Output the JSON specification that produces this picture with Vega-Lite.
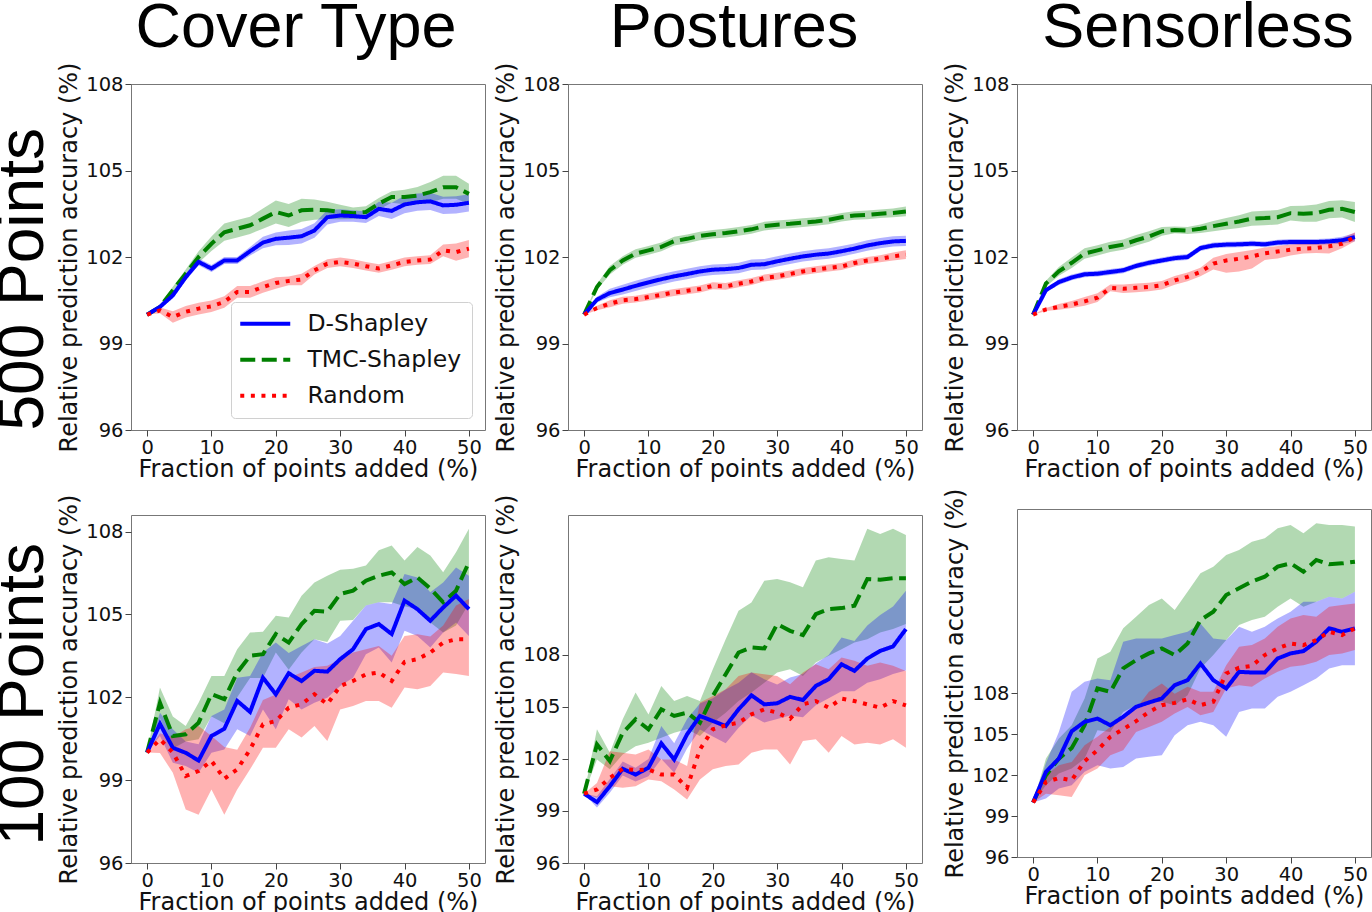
{
"$schema":"https://vega.github.io/schema/vega-lite/v6.json",
"padding":{"left":-8,"top":-4,"right":0,"bottom":0},
"background":"white",
"config":{
 "view":{"stroke":"#777","strokeWidth":1},
 "axis":{"grid":false,"domain":false,"labelFont":"DejaVu Sans","labelFontSize":19.5,"labelColor":"#111","titleFont":"DejaVu Sans","titleFontSize":24,"titleFontWeight":"normal","titleColor":"#111","tickColor":"#444","tickSize":6,"labelPadding":2},
 "axisX":{"titlePadding":1,"labelFlush":false},
 "axisY":{"titlePadding":4},
 "title":{"font":"Liberation Sans","fontWeight":"normal","color":"#000"}
},
"spacing":20,
"datasets":{
"ct500":[
{"s":"TMC-Shapley","x":0,"y":100,"lo":100,"hi":100},{"s":"TMC-Shapley","x":2,"y":100.27,"lo":100.19,"hi":100.35},{"s":"TMC-Shapley","x":4,"y":100.85,"lo":100.73,"hi":100.97},{"s":"TMC-Shapley","x":6,"y":101.42,"lo":101.27,"hi":101.57},{"s":"TMC-Shapley","x":8,"y":102.0,"lo":101.8,"hi":102.2},{"s":"TMC-Shapley","x":10,"y":102.46,"lo":102.21,"hi":102.71},{"s":"TMC-Shapley","x":12,"y":102.86,"lo":102.56,"hi":103.16},{"s":"TMC-Shapley","x":14,"y":102.98,"lo":102.68,"hi":103.28},{"s":"TMC-Shapley","x":16,"y":103.1,"lo":102.8,"hi":103.4},{"s":"TMC-Shapley","x":18,"y":103.33,"lo":102.98,"hi":103.68},{"s":"TMC-Shapley","x":20,"y":103.56,"lo":103.16,"hi":103.96},{"s":"TMC-Shapley","x":22,"y":103.44,"lo":103.04,"hi":103.84},{"s":"TMC-Shapley","x":24,"y":103.62,"lo":103.22,"hi":104.02},{"s":"TMC-Shapley","x":26,"y":103.64,"lo":103.29,"hi":103.99},{"s":"TMC-Shapley","x":28,"y":103.62,"lo":103.32,"hi":103.92},{"s":"TMC-Shapley","x":30,"y":103.56,"lo":103.31,"hi":103.81},{"s":"TMC-Shapley","x":32,"y":103.52,"lo":103.32,"hi":103.72},{"s":"TMC-Shapley","x":34,"y":103.56,"lo":103.36,"hi":103.76},{"s":"TMC-Shapley","x":36,"y":103.85,"lo":103.65,"hi":104.05},{"s":"TMC-Shapley","x":38,"y":104.08,"lo":103.88,"hi":104.28},{"s":"TMC-Shapley","x":40,"y":104.08,"lo":103.83,"hi":104.33},{"s":"TMC-Shapley","x":42,"y":104.13,"lo":103.83,"hi":104.43},{"s":"TMC-Shapley","x":44,"y":104.25,"lo":103.9,"hi":104.6},{"s":"TMC-Shapley","x":46,"y":104.42,"lo":104.02,"hi":104.82},{"s":"TMC-Shapley","x":48,"y":104.42,"lo":104.02,"hi":104.82},{"s":"TMC-Shapley","x":50,"y":104.19,"lo":103.84,"hi":104.54},
{"s":"D-Shapley","x":0,"y":100,"lo":100,"hi":100},{"s":"D-Shapley","x":2,"y":100.27,"lo":100.19,"hi":100.35},{"s":"D-Shapley","x":4,"y":100.67,"lo":100.57,"hi":100.77},{"s":"D-Shapley","x":6,"y":101.3,"lo":101.18,"hi":101.42},{"s":"D-Shapley","x":8,"y":101.83,"lo":101.71,"hi":101.95},{"s":"D-Shapley","x":10,"y":101.6,"lo":101.48,"hi":101.72},{"s":"D-Shapley","x":12,"y":101.88,"lo":101.76,"hi":102.0},{"s":"D-Shapley","x":14,"y":101.88,"lo":101.76,"hi":102.0},{"s":"D-Shapley","x":16,"y":102.2,"lo":102.05,"hi":102.35},{"s":"D-Shapley","x":18,"y":102.5,"lo":102.3,"hi":102.7},{"s":"D-Shapley","x":20,"y":102.63,"lo":102.41,"hi":102.85},{"s":"D-Shapley","x":22,"y":102.67,"lo":102.42,"hi":102.92},{"s":"D-Shapley","x":24,"y":102.72,"lo":102.47,"hi":102.97},{"s":"D-Shapley","x":26,"y":102.92,"lo":102.67,"hi":103.17},{"s":"D-Shapley","x":28,"y":103.38,"lo":103.13,"hi":103.63},{"s":"D-Shapley","x":30,"y":103.44,"lo":103.22,"hi":103.66},{"s":"D-Shapley","x":32,"y":103.42,"lo":103.22,"hi":103.62},{"s":"D-Shapley","x":34,"y":103.38,"lo":103.18,"hi":103.58},{"s":"D-Shapley","x":36,"y":103.67,"lo":103.42,"hi":103.92},{"s":"D-Shapley","x":38,"y":103.6,"lo":103.32,"hi":103.88},{"s":"D-Shapley","x":40,"y":103.82,"lo":103.52,"hi":104.12},{"s":"D-Shapley","x":42,"y":103.9,"lo":103.6,"hi":104.2},{"s":"D-Shapley","x":44,"y":103.93,"lo":103.63,"hi":104.23},{"s":"D-Shapley","x":46,"y":103.79,"lo":103.49,"hi":104.09},{"s":"D-Shapley","x":48,"y":103.81,"lo":103.51,"hi":104.11},{"s":"D-Shapley","x":50,"y":103.88,"lo":103.58,"hi":104.18},
{"s":"Random","x":0,"y":100,"lo":100,"hi":100},{"s":"Random","x":2,"y":100.15,"lo":100.05,"hi":100.25},{"s":"Random","x":4,"y":99.92,"lo":99.72,"hi":100.12},{"s":"Random","x":6,"y":100.1,"lo":99.9,"hi":100.3},{"s":"Random","x":8,"y":100.21,"lo":100.01,"hi":100.41},{"s":"Random","x":10,"y":100.29,"lo":100.09,"hi":100.49},{"s":"Random","x":12,"y":100.44,"lo":100.24,"hi":100.64},{"s":"Random","x":14,"y":100.79,"lo":100.59,"hi":100.99},{"s":"Random","x":16,"y":100.79,"lo":100.59,"hi":100.99},{"s":"Random","x":18,"y":100.96,"lo":100.76,"hi":101.16},{"s":"Random","x":20,"y":101.1,"lo":100.9,"hi":101.3},{"s":"Random","x":22,"y":101.17,"lo":101.02,"hi":101.32},{"s":"Random","x":24,"y":101.22,"lo":101.02,"hi":101.42},{"s":"Random","x":26,"y":101.54,"lo":101.39,"hi":101.69},{"s":"Random","x":28,"y":101.77,"lo":101.62,"hi":101.92},{"s":"Random","x":30,"y":101.83,"lo":101.68,"hi":101.98},{"s":"Random","x":32,"y":101.77,"lo":101.62,"hi":101.92},{"s":"Random","x":34,"y":101.68,"lo":101.53,"hi":101.83},{"s":"Random","x":36,"y":101.6,"lo":101.45,"hi":101.75},{"s":"Random","x":38,"y":101.71,"lo":101.56,"hi":101.86},{"s":"Random","x":40,"y":101.83,"lo":101.68,"hi":101.98},{"s":"Random","x":42,"y":101.88,"lo":101.73,"hi":102.03},{"s":"Random","x":44,"y":101.91,"lo":101.76,"hi":102.06},{"s":"Random","x":46,"y":102.23,"lo":102.03,"hi":102.43},{"s":"Random","x":48,"y":102.17,"lo":101.87,"hi":102.47},{"s":"Random","x":50,"y":102.29,"lo":101.99,"hi":102.59}
],
"po500":[
{"s":"TMC-Shapley","x":0,"y":100,"lo":100,"hi":100},{"s":"TMC-Shapley","x":2,"y":100.96,"lo":100.86,"hi":101.06},{"s":"TMC-Shapley","x":4,"y":101.54,"lo":101.39,"hi":101.69},{"s":"TMC-Shapley","x":6,"y":101.88,"lo":101.73,"hi":102.03},{"s":"TMC-Shapley","x":8,"y":102.12,"lo":101.97,"hi":102.27},{"s":"TMC-Shapley","x":10,"y":102.23,"lo":102.08,"hi":102.38},{"s":"TMC-Shapley","x":12,"y":102.35,"lo":102.2,"hi":102.5},{"s":"TMC-Shapley","x":14,"y":102.55,"lo":102.4,"hi":102.7},{"s":"TMC-Shapley","x":16,"y":102.63,"lo":102.48,"hi":102.78},{"s":"TMC-Shapley","x":18,"y":102.73,"lo":102.58,"hi":102.88},{"s":"TMC-Shapley","x":20,"y":102.79,"lo":102.64,"hi":102.94},{"s":"TMC-Shapley","x":22,"y":102.83,"lo":102.68,"hi":102.98},{"s":"TMC-Shapley","x":24,"y":102.89,"lo":102.74,"hi":103.04},{"s":"TMC-Shapley","x":26,"y":102.96,"lo":102.81,"hi":103.11},{"s":"TMC-Shapley","x":28,"y":103.07,"lo":102.92,"hi":103.22},{"s":"TMC-Shapley","x":30,"y":103.12,"lo":102.97,"hi":103.27},{"s":"TMC-Shapley","x":32,"y":103.15,"lo":103.0,"hi":103.3},{"s":"TMC-Shapley","x":34,"y":103.19,"lo":103.04,"hi":103.34},{"s":"TMC-Shapley","x":36,"y":103.23,"lo":103.08,"hi":103.38},{"s":"TMC-Shapley","x":38,"y":103.29,"lo":103.14,"hi":103.44},{"s":"TMC-Shapley","x":40,"y":103.38,"lo":103.23,"hi":103.53},{"s":"TMC-Shapley","x":42,"y":103.44,"lo":103.29,"hi":103.59},{"s":"TMC-Shapley","x":44,"y":103.46,"lo":103.31,"hi":103.61},{"s":"TMC-Shapley","x":46,"y":103.5,"lo":103.35,"hi":103.65},{"s":"TMC-Shapley","x":48,"y":103.53,"lo":103.38,"hi":103.68},{"s":"TMC-Shapley","x":50,"y":103.58,"lo":103.41,"hi":103.75},
{"s":"D-Shapley","x":0,"y":100,"lo":100,"hi":100},{"s":"D-Shapley","x":2,"y":100.52,"lo":100.42,"hi":100.62},{"s":"D-Shapley","x":4,"y":100.75,"lo":100.6,"hi":100.9},{"s":"D-Shapley","x":6,"y":100.87,"lo":100.7,"hi":101.04},{"s":"D-Shapley","x":8,"y":101.0,"lo":100.82,"hi":101.18},{"s":"D-Shapley","x":10,"y":101.12,"lo":100.94,"hi":101.3},{"s":"D-Shapley","x":12,"y":101.23,"lo":101.05,"hi":101.41},{"s":"D-Shapley","x":14,"y":101.33,"lo":101.15,"hi":101.51},{"s":"D-Shapley","x":16,"y":101.41,"lo":101.23,"hi":101.59},{"s":"D-Shapley","x":18,"y":101.5,"lo":101.32,"hi":101.68},{"s":"D-Shapley","x":20,"y":101.56,"lo":101.38,"hi":101.74},{"s":"D-Shapley","x":22,"y":101.58,"lo":101.4,"hi":101.76},{"s":"D-Shapley","x":24,"y":101.62,"lo":101.44,"hi":101.8},{"s":"D-Shapley","x":26,"y":101.73,"lo":101.55,"hi":101.91},{"s":"D-Shapley","x":28,"y":101.75,"lo":101.57,"hi":101.93},{"s":"D-Shapley","x":30,"y":101.85,"lo":101.67,"hi":102.03},{"s":"D-Shapley","x":32,"y":101.94,"lo":101.76,"hi":102.12},{"s":"D-Shapley","x":34,"y":102.02,"lo":101.84,"hi":102.2},{"s":"D-Shapley","x":36,"y":102.08,"lo":101.9,"hi":102.26},{"s":"D-Shapley","x":38,"y":102.12,"lo":101.94,"hi":102.3},{"s":"D-Shapley","x":40,"y":102.2,"lo":102.02,"hi":102.38},{"s":"D-Shapley","x":42,"y":102.29,"lo":102.11,"hi":102.47},{"s":"D-Shapley","x":44,"y":102.4,"lo":102.22,"hi":102.58},{"s":"D-Shapley","x":46,"y":102.48,"lo":102.3,"hi":102.66},{"s":"D-Shapley","x":48,"y":102.54,"lo":102.36,"hi":102.72},{"s":"D-Shapley","x":50,"y":102.56,"lo":102.38,"hi":102.74},
{"s":"Random","x":0,"y":100,"lo":100,"hi":100},{"s":"Random","x":2,"y":100.23,"lo":100.15,"hi":100.31},{"s":"Random","x":4,"y":100.38,"lo":100.26,"hi":100.5},{"s":"Random","x":6,"y":100.5,"lo":100.38,"hi":100.62},{"s":"Random","x":8,"y":100.54,"lo":100.42,"hi":100.66},{"s":"Random","x":10,"y":100.61,"lo":100.49,"hi":100.73},{"s":"Random","x":12,"y":100.69,"lo":100.57,"hi":100.81},{"s":"Random","x":14,"y":100.77,"lo":100.65,"hi":100.89},{"s":"Random","x":16,"y":100.83,"lo":100.71,"hi":100.95},{"s":"Random","x":18,"y":100.89,"lo":100.77,"hi":101.01},{"s":"Random","x":20,"y":101.0,"lo":100.88,"hi":101.12},{"s":"Random","x":22,"y":100.98,"lo":100.86,"hi":101.1},{"s":"Random","x":24,"y":101.07,"lo":100.95,"hi":101.19},{"s":"Random","x":26,"y":101.15,"lo":101.03,"hi":101.27},{"s":"Random","x":28,"y":101.27,"lo":101.15,"hi":101.39},{"s":"Random","x":30,"y":101.33,"lo":101.21,"hi":101.45},{"s":"Random","x":32,"y":101.41,"lo":101.29,"hi":101.53},{"s":"Random","x":34,"y":101.5,"lo":101.38,"hi":101.62},{"s":"Random","x":36,"y":101.56,"lo":101.44,"hi":101.68},{"s":"Random","x":38,"y":101.62,"lo":101.5,"hi":101.74},{"s":"Random","x":40,"y":101.67,"lo":101.55,"hi":101.79},{"s":"Random","x":42,"y":101.79,"lo":101.67,"hi":101.91},{"s":"Random","x":44,"y":101.88,"lo":101.76,"hi":102.0},{"s":"Random","x":46,"y":101.94,"lo":101.82,"hi":102.06},{"s":"Random","x":48,"y":102.02,"lo":101.88,"hi":102.16},{"s":"Random","x":50,"y":102.08,"lo":101.93,"hi":102.23}
],
"se500":[
{"s":"TMC-Shapley","x":0,"y":100,"lo":100,"hi":100},{"s":"TMC-Shapley","x":2,"y":101.08,"lo":100.98,"hi":101.18},{"s":"TMC-Shapley","x":4,"y":101.5,"lo":101.35,"hi":101.65},{"s":"TMC-Shapley","x":6,"y":101.8,"lo":101.62,"hi":101.98},{"s":"TMC-Shapley","x":8,"y":102.12,"lo":101.94,"hi":102.3},{"s":"TMC-Shapley","x":10,"y":102.23,"lo":102.05,"hi":102.41},{"s":"TMC-Shapley","x":12,"y":102.35,"lo":102.17,"hi":102.53},{"s":"TMC-Shapley","x":14,"y":102.43,"lo":102.25,"hi":102.61},{"s":"TMC-Shapley","x":16,"y":102.58,"lo":102.4,"hi":102.76},{"s":"TMC-Shapley","x":18,"y":102.71,"lo":102.53,"hi":102.89},{"s":"TMC-Shapley","x":20,"y":102.89,"lo":102.74,"hi":103.04},{"s":"TMC-Shapley","x":22,"y":102.94,"lo":102.82,"hi":103.06},{"s":"TMC-Shapley","x":24,"y":102.92,"lo":102.8,"hi":103.04},{"s":"TMC-Shapley","x":26,"y":102.98,"lo":102.83,"hi":103.13},{"s":"TMC-Shapley","x":28,"y":103.07,"lo":102.89,"hi":103.25},{"s":"TMC-Shapley","x":30,"y":103.15,"lo":102.95,"hi":103.35},{"s":"TMC-Shapley","x":32,"y":103.23,"lo":103.01,"hi":103.45},{"s":"TMC-Shapley","x":34,"y":103.33,"lo":103.08,"hi":103.58},{"s":"TMC-Shapley","x":36,"y":103.35,"lo":103.1,"hi":103.6},{"s":"TMC-Shapley","x":38,"y":103.38,"lo":103.13,"hi":103.63},{"s":"TMC-Shapley","x":40,"y":103.52,"lo":103.27,"hi":103.77},{"s":"TMC-Shapley","x":42,"y":103.5,"lo":103.22,"hi":103.78},{"s":"TMC-Shapley","x":44,"y":103.52,"lo":103.22,"hi":103.82},{"s":"TMC-Shapley","x":46,"y":103.64,"lo":103.34,"hi":103.94},{"s":"TMC-Shapley","x":48,"y":103.67,"lo":103.37,"hi":103.97},{"s":"TMC-Shapley","x":50,"y":103.56,"lo":103.21,"hi":103.91},
{"s":"D-Shapley","x":0,"y":100,"lo":100,"hi":100},{"s":"D-Shapley","x":2,"y":100.85,"lo":100.78,"hi":100.92},{"s":"D-Shapley","x":4,"y":101.13,"lo":101.03,"hi":101.23},{"s":"D-Shapley","x":6,"y":101.29,"lo":101.19,"hi":101.39},{"s":"D-Shapley","x":8,"y":101.4,"lo":101.3,"hi":101.5},{"s":"D-Shapley","x":10,"y":101.42,"lo":101.32,"hi":101.52},{"s":"D-Shapley","x":12,"y":101.48,"lo":101.38,"hi":101.58},{"s":"D-Shapley","x":14,"y":101.54,"lo":101.44,"hi":101.64},{"s":"D-Shapley","x":16,"y":101.69,"lo":101.59,"hi":101.79},{"s":"D-Shapley","x":18,"y":101.8,"lo":101.7,"hi":101.9},{"s":"D-Shapley","x":20,"y":101.88,"lo":101.78,"hi":101.98},{"s":"D-Shapley","x":22,"y":101.96,"lo":101.86,"hi":102.06},{"s":"D-Shapley","x":24,"y":102.0,"lo":101.9,"hi":102.1},{"s":"D-Shapley","x":26,"y":102.31,"lo":102.21,"hi":102.41},{"s":"D-Shapley","x":28,"y":102.4,"lo":102.3,"hi":102.5},{"s":"D-Shapley","x":30,"y":102.43,"lo":102.33,"hi":102.53},{"s":"D-Shapley","x":32,"y":102.44,"lo":102.34,"hi":102.54},{"s":"D-Shapley","x":34,"y":102.46,"lo":102.36,"hi":102.56},{"s":"D-Shapley","x":36,"y":102.44,"lo":102.34,"hi":102.54},{"s":"D-Shapley","x":38,"y":102.5,"lo":102.4,"hi":102.6},{"s":"D-Shapley","x":40,"y":102.52,"lo":102.42,"hi":102.62},{"s":"D-Shapley","x":42,"y":102.52,"lo":102.42,"hi":102.62},{"s":"D-Shapley","x":44,"y":102.52,"lo":102.42,"hi":102.62},{"s":"D-Shapley","x":46,"y":102.54,"lo":102.44,"hi":102.64},{"s":"D-Shapley","x":48,"y":102.58,"lo":102.46,"hi":102.7},{"s":"D-Shapley","x":50,"y":102.69,"lo":102.55,"hi":102.83},
{"s":"Random","x":0,"y":100,"lo":100,"hi":100},{"s":"Random","x":2,"y":100.18,"lo":100.13,"hi":100.23},{"s":"Random","x":4,"y":100.27,"lo":100.17,"hi":100.37},{"s":"Random","x":6,"y":100.35,"lo":100.23,"hi":100.47},{"s":"Random","x":8,"y":100.46,"lo":100.31,"hi":100.61},{"s":"Random","x":10,"y":100.59,"lo":100.44,"hi":100.74},{"s":"Random","x":12,"y":100.93,"lo":100.81,"hi":101.05},{"s":"Random","x":14,"y":100.9,"lo":100.75,"hi":101.05},{"s":"Random","x":16,"y":100.93,"lo":100.78,"hi":101.08},{"s":"Random","x":18,"y":100.96,"lo":100.81,"hi":101.11},{"s":"Random","x":20,"y":101.02,"lo":100.87,"hi":101.17},{"s":"Random","x":22,"y":101.19,"lo":101.04,"hi":101.34},{"s":"Random","x":24,"y":101.31,"lo":101.16,"hi":101.46},{"s":"Random","x":26,"y":101.48,"lo":101.33,"hi":101.63},{"s":"Random","x":28,"y":101.77,"lo":101.57,"hi":101.97},{"s":"Random","x":30,"y":101.88,"lo":101.45,"hi":102.1},{"s":"Random","x":32,"y":101.94,"lo":101.5,"hi":102.17},{"s":"Random","x":34,"y":102.02,"lo":101.6,"hi":102.24},{"s":"Random","x":36,"y":102.13,"lo":101.9,"hi":102.33},{"s":"Random","x":38,"y":102.19,"lo":101.95,"hi":102.38},{"s":"Random","x":40,"y":102.25,"lo":102.05,"hi":102.43},{"s":"Random","x":42,"y":102.29,"lo":102.12,"hi":102.46},{"s":"Random","x":44,"y":102.31,"lo":102.14,"hi":102.48},{"s":"Random","x":46,"y":102.37,"lo":102.12,"hi":102.55},{"s":"Random","x":48,"y":102.46,"lo":102.3,"hi":102.65},{"s":"Random","x":50,"y":102.69,"lo":102.55,"hi":102.86}
],
"ct100":[
{"s":"TMC-Shapley","x":0,"y":100,"lo":100,"hi":100},{"s":"TMC-Shapley","x":2,"y":101.8,"lo":101.25,"hi":102.35},{"s":"TMC-Shapley","x":4,"y":100.6,"lo":100.15,"hi":101.3},{"s":"TMC-Shapley","x":6,"y":100.66,"lo":100.4,"hi":100.96},{"s":"TMC-Shapley","x":8,"y":101.08,"lo":100.48,"hi":101.8},{"s":"TMC-Shapley","x":10,"y":102.11,"lo":101.3,"hi":102.77},{"s":"TMC-Shapley","x":12,"y":101.93,"lo":101.06,"hi":102.77},{"s":"TMC-Shapley","x":14,"y":102.9,"lo":102.0,"hi":103.74},{"s":"TMC-Shapley","x":16,"y":103.5,"lo":102.7,"hi":104.35},{"s":"TMC-Shapley","x":18,"y":103.56,"lo":102.7,"hi":104.37},{"s":"TMC-Shapley","x":20,"y":104.29,"lo":103.62,"hi":104.95},{"s":"TMC-Shapley","x":22,"y":103.98,"lo":103.0,"hi":104.89},{"s":"TMC-Shapley","x":24,"y":104.65,"lo":103.62,"hi":105.68},{"s":"TMC-Shapley","x":26,"y":105.13,"lo":104.1,"hi":106.16},{"s":"TMC-Shapley","x":28,"y":105.1,"lo":104.0,"hi":106.4},{"s":"TMC-Shapley","x":30,"y":105.74,"lo":104.77,"hi":106.62},{"s":"TMC-Shapley","x":32,"y":105.86,"lo":104.8,"hi":106.65},{"s":"TMC-Shapley","x":34,"y":106.22,"lo":105.32,"hi":106.77},{"s":"TMC-Shapley","x":36,"y":106.4,"lo":105.44,"hi":107.32},{"s":"TMC-Shapley","x":38,"y":106.52,"lo":105.44,"hi":107.5},{"s":"TMC-Shapley","x":40,"y":106.1,"lo":105.3,"hi":106.95},{"s":"TMC-Shapley","x":42,"y":106.34,"lo":105.2,"hi":107.44},{"s":"TMC-Shapley","x":44,"y":105.94,"lo":104.71,"hi":107.13},{"s":"TMC-Shapley","x":46,"y":105.44,"lo":104.35,"hi":106.53},{"s":"TMC-Shapley","x":48,"y":105.86,"lo":104.6,"hi":107.25},{"s":"TMC-Shapley","x":50,"y":106.89,"lo":105.4,"hi":108.1},
{"s":"D-Shapley","x":0,"y":100,"lo":100,"hi":100},{"s":"D-Shapley","x":2,"y":101.04,"lo":100.6,"hi":101.44},{"s":"D-Shapley","x":4,"y":100.17,"lo":99.63,"hi":100.84},{"s":"D-Shapley","x":6,"y":99.99,"lo":99.51,"hi":100.4},{"s":"D-Shapley","x":8,"y":99.71,"lo":99.27,"hi":100.3},{"s":"D-Shapley","x":10,"y":100.6,"lo":99.99,"hi":101.32},{"s":"D-Shapley","x":12,"y":100.86,"lo":100.11,"hi":101.56},{"s":"D-Shapley","x":14,"y":101.87,"lo":100.84,"hi":102.71},{"s":"D-Shapley","x":16,"y":101.47,"lo":100.6,"hi":102.77},{"s":"D-Shapley","x":18,"y":102.71,"lo":101.56,"hi":103.62},{"s":"D-Shapley","x":20,"y":102.11,"lo":100.84,"hi":103.98},{"s":"D-Shapley","x":22,"y":102.87,"lo":101.93,"hi":103.6},{"s":"D-Shapley","x":24,"y":102.59,"lo":101.56,"hi":103.86},{"s":"D-Shapley","x":26,"y":102.96,"lo":101.8,"hi":104.1},{"s":"D-Shapley","x":28,"y":102.93,"lo":101.98,"hi":103.95},{"s":"D-Shapley","x":30,"y":103.38,"lo":102.41,"hi":104.22},{"s":"D-Shapley","x":32,"y":103.74,"lo":102.71,"hi":104.77},{"s":"D-Shapley","x":34,"y":104.47,"lo":103.56,"hi":105.32},{"s":"D-Shapley","x":36,"y":104.65,"lo":103.8,"hi":105.44},{"s":"D-Shapley","x":38,"y":104.29,"lo":103.26,"hi":105.38},{"s":"D-Shapley","x":40,"y":105.5,"lo":104.41,"hi":106.46},{"s":"D-Shapley","x":42,"y":105.19,"lo":104.22,"hi":106.34},{"s":"D-Shapley","x":44,"y":104.77,"lo":103.8,"hi":105.8},{"s":"D-Shapley","x":46,"y":105.25,"lo":104.35,"hi":106.16},{"s":"D-Shapley","x":48,"y":105.68,"lo":104.71,"hi":106.7},{"s":"D-Shapley","x":50,"y":105.19,"lo":104.22,"hi":106.4},
{"s":"Random","x":0,"y":100,"lo":100,"hi":100},{"s":"Random","x":2,"y":100.48,"lo":99.98,"hi":100.7},{"s":"Random","x":4,"y":100.0,"lo":99.27,"hi":100.55},{"s":"Random","x":6,"y":99.15,"lo":97.94,"hi":100.84},{"s":"Random","x":8,"y":99.33,"lo":97.75,"hi":100.96},{"s":"Random","x":10,"y":99.7,"lo":98.66,"hi":100.6},{"s":"Random","x":12,"y":99.05,"lo":97.75,"hi":100.2},{"s":"Random","x":14,"y":99.39,"lo":98.66,"hi":100.1},{"s":"Random","x":16,"y":100.11,"lo":99.39,"hi":100.9},{"s":"Random","x":18,"y":101.02,"lo":100.17,"hi":101.9},{"s":"Random","x":20,"y":101.14,"lo":100.17,"hi":102.1},{"s":"Random","x":22,"y":101.62,"lo":100.84,"hi":102.71},{"s":"Random","x":24,"y":101.75,"lo":100.54,"hi":102.9},{"s":"Random","x":26,"y":102.11,"lo":100.96,"hi":103.1},{"s":"Random","x":28,"y":101.75,"lo":100.42,"hi":103.14},{"s":"Random","x":30,"y":102.41,"lo":101.56,"hi":103.38},{"s":"Random","x":32,"y":102.59,"lo":101.68,"hi":103.62},{"s":"Random","x":34,"y":102.83,"lo":101.87,"hi":103.74},{"s":"Random","x":36,"y":102.9,"lo":101.87,"hi":103.86},{"s":"Random","x":38,"y":102.59,"lo":101.62,"hi":103.5},{"s":"Random","x":40,"y":103.28,"lo":102.35,"hi":104.22},{"s":"Random","x":42,"y":103.38,"lo":102.29,"hi":104.28},{"s":"Random","x":44,"y":103.62,"lo":102.41,"hi":104.2},{"s":"Random","x":46,"y":103.98,"lo":102.9,"hi":104.6},{"s":"Random","x":48,"y":104.1,"lo":102.84,"hi":105.32},{"s":"Random","x":50,"y":104.1,"lo":102.77,"hi":105.56}
],
"po100":[
{"s":"TMC-Shapley","x":0,"y":100,"lo":100,"hi":100},{"s":"TMC-Shapley","x":2,"y":102.84,"lo":101.97,"hi":103.71},{"s":"TMC-Shapley","x":4,"y":101.88,"lo":101.4,"hi":102.36},{"s":"TMC-Shapley","x":6,"y":103.51,"lo":102.26,"hi":104.29},{"s":"TMC-Shapley","x":8,"y":104.29,"lo":102.74,"hi":105.83},{"s":"TMC-Shapley","x":10,"y":103.71,"lo":102.94,"hi":104.57},{"s":"TMC-Shapley","x":12,"y":104.86,"lo":103.23,"hi":106.21},{"s":"TMC-Shapley","x":14,"y":104.48,"lo":103.51,"hi":105.34},{"s":"TMC-Shapley","x":16,"y":104.67,"lo":103.71,"hi":105.63},{"s":"TMC-Shapley","x":18,"y":104.09,"lo":103.32,"hi":105.34},{"s":"TMC-Shapley","x":20,"y":105.63,"lo":104.09,"hi":107.18},{"s":"TMC-Shapley","x":22,"y":106.89,"lo":104.67,"hi":108.91},{"s":"TMC-Shapley","x":24,"y":108.14,"lo":105.34,"hi":110.55},{"s":"TMC-Shapley","x":26,"y":108.43,"lo":105.83,"hi":111.03},{"s":"TMC-Shapley","x":28,"y":108.37,"lo":106.4,"hi":112.28},{"s":"TMC-Shapley","x":30,"y":109.78,"lo":106.98,"hi":112.38},{"s":"TMC-Shapley","x":32,"y":109.39,"lo":107.18,"hi":112.19},{"s":"TMC-Shapley","x":34,"y":109.14,"lo":106.79,"hi":111.9},{"s":"TMC-Shapley","x":36,"y":110.35,"lo":107.56,"hi":113.44},{"s":"TMC-Shapley","x":38,"y":110.64,"lo":107.95,"hi":113.63},{"s":"TMC-Shapley","x":40,"y":110.7,"lo":108.33,"hi":113.53},{"s":"TMC-Shapley","x":42,"y":110.84,"lo":108.72,"hi":113.44},{"s":"TMC-Shapley","x":44,"y":112.38,"lo":108.9,"hi":115.27},{"s":"TMC-Shapley","x":46,"y":112.34,"lo":109.3,"hi":114.98},{"s":"TMC-Shapley","x":48,"y":112.42,"lo":109.49,"hi":115.27},{"s":"TMC-Shapley","x":50,"y":112.42,"lo":109.78,"hi":114.92},
{"s":"D-Shapley","x":0,"y":100,"lo":100,"hi":100},{"s":"D-Shapley","x":2,"y":99.51,"lo":99.2,"hi":99.85},{"s":"D-Shapley","x":4,"y":100.43,"lo":100.05,"hi":100.85},{"s":"D-Shapley","x":6,"y":101.43,"lo":101.05,"hi":101.85},{"s":"D-Shapley","x":8,"y":101.1,"lo":100.7,"hi":101.5},{"s":"D-Shapley","x":10,"y":101.49,"lo":101.0,"hi":102.0},{"s":"D-Shapley","x":12,"y":102.9,"lo":102.0,"hi":103.9},{"s":"D-Shapley","x":14,"y":101.97,"lo":101.2,"hi":102.9},{"s":"D-Shapley","x":16,"y":103.42,"lo":102.6,"hi":104.3},{"s":"D-Shapley","x":18,"y":104.48,"lo":103.7,"hi":105.2},{"s":"D-Shapley","x":20,"y":104.19,"lo":103.3,"hi":105.5},{"s":"D-Shapley","x":22,"y":103.9,"lo":102.9,"hi":106.0},{"s":"D-Shapley","x":24,"y":104.86,"lo":103.8,"hi":106.4},{"s":"D-Shapley","x":26,"y":105.67,"lo":104.5,"hi":107.0},{"s":"D-Shapley","x":28,"y":105.15,"lo":104.1,"hi":106.6},{"s":"D-Shapley","x":30,"y":105.21,"lo":104.3,"hi":106.3},{"s":"D-Shapley","x":32,"y":105.58,"lo":104.5,"hi":106.7},{"s":"D-Shapley","x":34,"y":105.4,"lo":104.4,"hi":106.9},{"s":"D-Shapley","x":36,"y":106.21,"lo":105.1,"hi":107.5},{"s":"D-Shapley","x":38,"y":106.6,"lo":105.5,"hi":108.0},{"s":"D-Shapley","x":40,"y":107.46,"lo":105.9,"hi":109.0},{"s":"D-Shapley","x":42,"y":107.08,"lo":105.9,"hi":108.8},{"s":"D-Shapley","x":44,"y":107.79,"lo":106.4,"hi":109.7},{"s":"D-Shapley","x":46,"y":108.23,"lo":106.6,"hi":110.3},{"s":"D-Shapley","x":48,"y":108.49,"lo":106.9,"hi":110.8},{"s":"D-Shapley","x":50,"y":109.49,"lo":107.1,"hi":111.7},
{"s":"Random","x":0,"y":100,"lo":100,"hi":100},{"s":"Random","x":2,"y":100.24,"lo":99.76,"hi":100.62},{"s":"Random","x":4,"y":100.91,"lo":100.43,"hi":102.45},{"s":"Random","x":6,"y":101.43,"lo":100.34,"hi":102.36},{"s":"Random","x":8,"y":101.36,"lo":100.43,"hi":102.26},{"s":"Random","x":10,"y":101.39,"lo":100.82,"hi":102.55},{"s":"Random","x":12,"y":101.1,"lo":100.72,"hi":101.97},{"s":"Random","x":14,"y":101.1,"lo":100.24,"hi":101.97},{"s":"Random","x":16,"y":100.34,"lo":99.66,"hi":101.59},{"s":"Random","x":18,"y":102.55,"lo":100.82,"hi":105.25},{"s":"Random","x":20,"y":103.71,"lo":101.4,"hi":105.63},{"s":"Random","x":22,"y":103.94,"lo":101.59,"hi":106.02},{"s":"Random","x":24,"y":104.09,"lo":101.68,"hi":106.79},{"s":"Random","x":26,"y":104.57,"lo":102.36,"hi":106.98},{"s":"Random","x":28,"y":104.86,"lo":102.55,"hi":106.88},{"s":"Random","x":30,"y":104.67,"lo":102.55,"hi":106.79},{"s":"Random","x":32,"y":104.32,"lo":101.68,"hi":106.31},{"s":"Random","x":34,"y":105.15,"lo":103.03,"hi":106.98},{"s":"Random","x":36,"y":105.34,"lo":103.13,"hi":107.46},{"s":"Random","x":38,"y":104.96,"lo":102.36,"hi":107.18},{"s":"Random","x":40,"y":105.48,"lo":103.32,"hi":107.85},{"s":"Random","x":42,"y":105.34,"lo":102.84,"hi":107.66},{"s":"Random","x":44,"y":105.15,"lo":102.94,"hi":107.37},{"s":"Random","x":46,"y":104.96,"lo":102.84,"hi":107.56},{"s":"Random","x":48,"y":105.34,"lo":103.13,"hi":107.37},{"s":"Random","x":50,"y":105.09,"lo":102.65,"hi":107.08}
],
"se100":[
{"s":"TMC-Shapley","x":0,"y":100,"lo":100,"hi":100},{"s":"TMC-Shapley","x":2,"y":102.0,"lo":101.27,"hi":103.22},{"s":"TMC-Shapley","x":4,"y":103.22,"lo":102.12,"hi":104.69},{"s":"TMC-Shapley","x":6,"y":104.0,"lo":102.49,"hi":105.67},{"s":"TMC-Shapley","x":8,"y":105.67,"lo":103.22,"hi":107.63},{"s":"TMC-Shapley","x":10,"y":108.37,"lo":105.31,"hi":110.57},{"s":"TMC-Shapley","x":12,"y":108.12,"lo":105.18,"hi":111.06},{"s":"TMC-Shapley","x":14,"y":109.84,"lo":106.65,"hi":112.78},{"s":"TMC-Shapley","x":16,"y":110.45,"lo":107.14,"hi":113.63},{"s":"TMC-Shapley","x":18,"y":110.94,"lo":107.3,"hi":114.49},{"s":"TMC-Shapley","x":20,"y":111.31,"lo":107.39,"hi":114.98},{"s":"TMC-Shapley","x":22,"y":110.82,"lo":107.14,"hi":114.12},{"s":"TMC-Shapley","x":24,"y":111.67,"lo":107.88,"hi":115.47},{"s":"TMC-Shapley","x":26,"y":113.39,"lo":109.84,"hi":116.82},{"s":"TMC-Shapley","x":28,"y":114.0,"lo":110.82,"hi":117.31},{"s":"TMC-Shapley","x":30,"y":115.23,"lo":111.92,"hi":118.17},{"s":"TMC-Shapley","x":32,"y":115.72,"lo":113.02,"hi":118.53},{"s":"TMC-Shapley","x":34,"y":116.21,"lo":113.39,"hi":119.14},{"s":"TMC-Shapley","x":36,"y":116.57,"lo":113.63,"hi":119.39},{"s":"TMC-Shapley","x":38,"y":117.31,"lo":114.37,"hi":120.12},{"s":"TMC-Shapley","x":40,"y":117.55,"lo":114.98,"hi":120.37},{"s":"TMC-Shapley","x":42,"y":116.94,"lo":114.37,"hi":119.76},{"s":"TMC-Shapley","x":44,"y":117.8,"lo":114.74,"hi":120.49},{"s":"TMC-Shapley","x":46,"y":117.48,"lo":115.1,"hi":120.37},{"s":"TMC-Shapley","x":48,"y":117.55,"lo":114.98,"hi":120.37},{"s":"TMC-Shapley","x":50,"y":117.67,"lo":115.47,"hi":120.25},
{"s":"D-Shapley","x":0,"y":100,"lo":100,"hi":100},{"s":"D-Shapley","x":2,"y":102.25,"lo":100.29,"hi":102.9},{"s":"D-Shapley","x":4,"y":103.22,"lo":101.02,"hi":105.18},{"s":"D-Shapley","x":6,"y":105.23,"lo":101.27,"hi":108.12},{"s":"D-Shapley","x":8,"y":105.92,"lo":102.25,"hi":108.86},{"s":"D-Shapley","x":10,"y":106.16,"lo":102.74,"hi":109.1},{"s":"D-Shapley","x":12,"y":105.67,"lo":102.49,"hi":108.98},{"s":"D-Shapley","x":14,"y":106.29,"lo":102.61,"hi":111.8},{"s":"D-Shapley","x":16,"y":107.02,"lo":103.22,"hi":112.04},{"s":"D-Shapley","x":18,"y":107.34,"lo":103.35,"hi":112.04},{"s":"D-Shapley","x":20,"y":107.63,"lo":103.47,"hi":112.04},{"s":"D-Shapley","x":22,"y":108.61,"lo":104.94,"hi":112.29},{"s":"D-Shapley","x":24,"y":108.98,"lo":105.67,"hi":112.53},{"s":"D-Shapley","x":26,"y":110.2,"lo":105.92,"hi":113.14},{"s":"D-Shapley","x":28,"y":108.98,"lo":105.67,"hi":112.04},{"s":"D-Shapley","x":30,"y":108.37,"lo":104.82,"hi":111.92},{"s":"D-Shapley","x":32,"y":109.59,"lo":106.65,"hi":112.9},{"s":"D-Shapley","x":34,"y":109.54,"lo":106.9,"hi":112.53},{"s":"D-Shapley","x":36,"y":109.54,"lo":106.9,"hi":112.9},{"s":"D-Shapley","x":38,"y":110.57,"lo":107.76,"hi":113.51},{"s":"D-Shapley","x":40,"y":110.94,"lo":108.12,"hi":114.0},{"s":"D-Shapley","x":42,"y":111.11,"lo":108.61,"hi":114.74},{"s":"D-Shapley","x":44,"y":111.8,"lo":109.1,"hi":114.74},{"s":"D-Shapley","x":46,"y":112.78,"lo":109.84,"hi":115.1},{"s":"D-Shapley","x":48,"y":112.53,"lo":110.08,"hi":114.98},{"s":"D-Shapley","x":50,"y":112.78,"lo":110.08,"hi":115.47},
{"s":"Random","x":0,"y":100,"lo":100,"hi":100},{"s":"Random","x":2,"y":101.5,"lo":100.65,"hi":102.0},{"s":"Random","x":4,"y":101.8,"lo":100.53,"hi":102.74},{"s":"Random","x":6,"y":101.63,"lo":100.41,"hi":102.98},{"s":"Random","x":8,"y":103.03,"lo":102.0,"hi":104.2},{"s":"Random","x":10,"y":103.84,"lo":102.49,"hi":104.82},{"s":"Random","x":12,"y":104.82,"lo":103.47,"hi":105.55},{"s":"Random","x":14,"y":105.38,"lo":103.84,"hi":106.16},{"s":"Random","x":16,"y":105.97,"lo":105.18,"hi":106.9},{"s":"Random","x":18,"y":106.65,"lo":105.55,"hi":108.12},{"s":"Random","x":20,"y":107.14,"lo":105.92,"hi":108.74},{"s":"Random","x":22,"y":107.31,"lo":106.53,"hi":107.98},{"s":"Random","x":24,"y":107.58,"lo":107.0,"hi":108.49},{"s":"Random","x":26,"y":107.14,"lo":106.41,"hi":108.12},{"s":"Random","x":28,"y":107.39,"lo":106.65,"hi":108.12},{"s":"Random","x":30,"y":109.47,"lo":108.37,"hi":110.08},{"s":"Random","x":32,"y":109.89,"lo":108.61,"hi":111.43},{"s":"Random","x":34,"y":110.03,"lo":108.49,"hi":111.55},{"s":"Random","x":36,"y":110.82,"lo":109.1,"hi":112.04},{"s":"Random","x":38,"y":111.31,"lo":109.59,"hi":112.9},{"s":"Random","x":40,"y":111.67,"lo":109.96,"hi":113.51},{"s":"Random","x":42,"y":111.55,"lo":110.08,"hi":113.76},{"s":"Random","x":44,"y":111.92,"lo":110.33,"hi":113.63},{"s":"Random","x":46,"y":112.53,"lo":110.82,"hi":114.37},{"s":"Random","x":48,"y":112.29,"lo":110.94,"hi":114.49},{"s":"Random","x":50,"y":112.78,"lo":111.19,"hi":114.61}
]
},
"hconcat":[
{"spacing":8,
 "hconcat":[
 {"spacing":11,
  "vconcat":[
  {"title":{"text":"500 Points","orient":"left","fontSize":64,"anchor":"middle","offset":1,"dx":-40},
   "hconcat":[
   {"width":354,"height":346,"data":{"name":"ct500"},
    "title":{"text":"Cover Type","fontSize":63,"anchor":"middle","frame":"group","dx":-12,"offset":2},
    "encoding":{"x":{"field":"x","type":"quantitative","scale":{"domain":[-2.5,52.5],"nice":false,"zero":false},"axis":{"title":"Fraction of points added (%)","values":[0,10,20,30,40,50]}}},
    "layer":[
     {"mark":{"type":"area","fillOpacity":0.3},
      "encoding":{"y":{"field":"lo","type":"quantitative","scale":{"domain":[96,108],"nice":false,"zero":false},"axis":{"title":"Relative prediction accuracy (%)","values":[96,99,102,105,108]}},"y2":{"field":"hi"},
       "fill":{"field":"s","type":"nominal","scale":{"domain":["D-Shapley","TMC-Shapley","Random"],"range":["#0000ff","#008000","#ff0000"]},
        "legend":{"title":null,"orient":"none","legendX":100,"legendY":218,"symbolType":"M-5,0H15","symbolSize":25,"symbolStrokeWidth":4,"labelFont":"DejaVu Sans","labelFontSize":23.5,"labelColor":"#111","labelOffset":43,"rowPadding":11,"padding":10,"fillColor":"rgba(255,255,255,0.8)","strokeColor":"#d0d0d0","cornerRadius":4}}}},
     {"mark":{"type":"line","strokeWidth":4,"strokeCap":"butt"},
      "encoding":{"y":{"field":"y","type":"quantitative","scale":{"domain":[96,108],"nice":false,"zero":false},"axis":{"title":"Relative prediction accuracy (%)","values":[96,99,102,105,108]}},
       "color":{"field":"s","type":"nominal","scale":{"domain":["D-Shapley","TMC-Shapley","Random"],"range":["#0000ff","#008000","#ff0000"]},
        "legend":{"title":null,"orient":"none","legendX":100,"legendY":218,"symbolType":"M-5,0H15","symbolSize":25,"symbolStrokeWidth":4,"labelFont":"DejaVu Sans","labelFontSize":23.5,"labelColor":"#111","labelOffset":43,"rowPadding":11,"padding":10,"fillColor":"rgba(255,255,255,0.8)","strokeColor":"#d0d0d0","cornerRadius":4}},
       "strokeDash":{"field":"s","type":"nominal","scale":{"domain":["D-Shapley","TMC-Shapley","Random"],"range":[[1,0],[15,6.5],[4,6.6]]},
        "legend":{"title":null,"orient":"none","legendX":100,"legendY":218,"symbolType":"M-5,0H15","symbolSize":25,"symbolStrokeWidth":4,"labelFont":"DejaVu Sans","labelFontSize":23.5,"labelColor":"#111","labelOffset":43,"rowPadding":11,"padding":10,"fillColor":"rgba(255,255,255,0.8)","strokeColor":"#d0d0d0","cornerRadius":4}}}}
    ]}
   ]},
  {"title":{"text":"100 Points","orient":"left","fontSize":64,"anchor":"middle","offset":1,"dx":10},
   "hconcat":[
   {"width":354,"height":348,"data":{"name":"ct100"},
    "encoding":{"x":{"field":"x","type":"quantitative","scale":{"domain":[-2.5,52.5],"nice":false,"zero":false},"axis":{"title":"Fraction of points added (%)","values":[0,10,20,30,40,50]}}},
    "layer":[
     {"mark":{"type":"area","fillOpacity":0.3},
      "encoding":{"y":{"field":"lo","type":"quantitative","scale":{"domain":[96,108.6],"nice":false,"zero":false},"axis":{"title":"Relative prediction accuracy (%)","values":[96,99,102,105,108]}},"y2":{"field":"hi"},
       "fill":{"field":"s","type":"nominal","scale":{"domain":["D-Shapley","TMC-Shapley","Random"],"range":["#0000ff","#008000","#ff0000"]}}}},
     {"mark":{"type":"line","strokeWidth":4,"strokeCap":"butt"},
      "encoding":{"y":{"field":"y","type":"quantitative","scale":{"domain":[96,108.6],"nice":false,"zero":false},"axis":{"title":"Relative prediction accuracy (%)","values":[96,99,102,105,108]}},
       "color":{"field":"s","type":"nominal","scale":{"domain":["D-Shapley","TMC-Shapley","Random"],"range":["#0000ff","#008000","#ff0000"]}},
       "strokeDash":{"field":"s","type":"nominal","scale":{"domain":["D-Shapley","TMC-Shapley","Random"],"range":[[1,0],[15,6.5],[4,6.6]]}}}}
    ]}
   ]}
  ]},
 {"spacing":11,
  "vconcat":[
   {"width":354,"height":346,"data":{"name":"po500"},
    "title":{"text":"Postures","fontSize":63,"anchor":"middle","frame":"group","dx":-11,"offset":2},
    "encoding":{"x":{"field":"x","type":"quantitative","scale":{"domain":[-2.5,52.5],"nice":false,"zero":false},"axis":{"title":"Fraction of points added (%)","values":[0,10,20,30,40,50]}}},
    "layer":[
     {"mark":{"type":"area","fillOpacity":0.3},
      "encoding":{"y":{"field":"lo","type":"quantitative","scale":{"domain":[96,108],"nice":false,"zero":false},"axis":{"title":"Relative prediction accuracy (%)","values":[96,99,102,105,108]}},"y2":{"field":"hi"},
       "fill":{"field":"s","type":"nominal","scale":{"domain":["D-Shapley","TMC-Shapley","Random"],"range":["#0000ff","#008000","#ff0000"]}}}},
     {"mark":{"type":"line","strokeWidth":4,"strokeCap":"butt"},
      "encoding":{"y":{"field":"y","type":"quantitative","scale":{"domain":[96,108],"nice":false,"zero":false},"axis":{"title":"Relative prediction accuracy (%)","values":[96,99,102,105,108]}},
       "color":{"field":"s","type":"nominal","scale":{"domain":["D-Shapley","TMC-Shapley","Random"],"range":["#0000ff","#008000","#ff0000"]}},
       "strokeDash":{"field":"s","type":"nominal","scale":{"domain":["D-Shapley","TMC-Shapley","Random"],"range":[[1,0],[15,6.5],[4,6.6]]}}}}
    ]},
   {"width":354,"height":348,"data":{"name":"po100"},
    "encoding":{"x":{"field":"x","type":"quantitative","scale":{"domain":[-2.5,52.5],"nice":false,"zero":false},"axis":{"title":"Fraction of points added (%)","values":[0,10,20,30,40,50]}}},
    "layer":[
     {"mark":{"type":"area","fillOpacity":0.3},
      "encoding":{"y":{"field":"lo","type":"quantitative","scale":{"domain":[96,116.07],"nice":false,"zero":false},"axis":{"title":"Relative prediction accuracy (%)","values":[96,99,102,105,108]}},"y2":{"field":"hi"},
       "fill":{"field":"s","type":"nominal","scale":{"domain":["D-Shapley","TMC-Shapley","Random"],"range":["#0000ff","#008000","#ff0000"]}}}},
     {"mark":{"type":"line","strokeWidth":4,"strokeCap":"butt"},
      "encoding":{"y":{"field":"y","type":"quantitative","scale":{"domain":[96,116.07],"nice":false,"zero":false},"axis":{"title":"Relative prediction accuracy (%)","values":[96,99,102,105,108]}},
       "color":{"field":"s","type":"nominal","scale":{"domain":["D-Shapley","TMC-Shapley","Random"],"range":["#0000ff","#008000","#ff0000"]}},
       "strokeDash":{"field":"s","type":"nominal","scale":{"domain":["D-Shapley","TMC-Shapley","Random"],"range":[[1,0],[15,6.5],[4,6.6]]}}}}
    ]}
  ]}
 ]},
{"spacing":5,
 "vconcat":[
   {"width":354,"height":346,"data":{"name":"se500"},
    "title":{"text":"Sensorless","fontSize":63,"anchor":"middle","frame":"group","dx":4,"offset":2},
    "encoding":{"x":{"field":"x","type":"quantitative","scale":{"domain":[-2.5,52.5],"nice":false,"zero":false},"axis":{"title":"Fraction of points added (%)","values":[0,10,20,30,40,50]}}},
    "layer":[
     {"mark":{"type":"area","fillOpacity":0.3},
      "encoding":{"y":{"field":"lo","type":"quantitative","scale":{"domain":[96,108],"nice":false,"zero":false},"axis":{"title":"Relative prediction accuracy (%)","values":[96,99,102,105,108]}},"y2":{"field":"hi"},
       "fill":{"field":"s","type":"nominal","scale":{"domain":["D-Shapley","TMC-Shapley","Random"],"range":["#0000ff","#008000","#ff0000"]}}}},
     {"mark":{"type":"line","strokeWidth":4,"strokeCap":"butt"},
      "encoding":{"y":{"field":"y","type":"quantitative","scale":{"domain":[96,108],"nice":false,"zero":false},"axis":{"title":"Relative prediction accuracy (%)","values":[96,99,102,105,108]}},
       "color":{"field":"s","type":"nominal","scale":{"domain":["D-Shapley","TMC-Shapley","Random"],"range":["#0000ff","#008000","#ff0000"]}},
       "strokeDash":{"field":"s","type":"nominal","scale":{"domain":["D-Shapley","TMC-Shapley","Random"],"range":[[1,0],[15,6.5],[4,6.6]]}}}}
    ]},
   {"width":354,"height":348,"data":{"name":"se100"},
    "encoding":{"x":{"field":"x","type":"quantitative","scale":{"domain":[-2.5,52.5],"nice":false,"zero":false},"axis":{"title":"Fraction of points added (%)","values":[0,10,20,30,40,50]}}},
    "layer":[
     {"mark":{"type":"area","fillOpacity":0.3},
      "encoding":{"y":{"field":"lo","type":"quantitative","scale":{"domain":[96,121.54],"nice":false,"zero":false},"axis":{"title":"Relative prediction accuracy (%)","values":[96,99,102,105,108]}},"y2":{"field":"hi"},
       "fill":{"field":"s","type":"nominal","scale":{"domain":["D-Shapley","TMC-Shapley","Random"],"range":["#0000ff","#008000","#ff0000"]}}}},
     {"mark":{"type":"line","strokeWidth":4,"strokeCap":"butt"},
      "encoding":{"y":{"field":"y","type":"quantitative","scale":{"domain":[96,121.54],"nice":false,"zero":false},"axis":{"title":"Relative prediction accuracy (%)","values":[96,99,102,105,108]}},
       "color":{"field":"s","type":"nominal","scale":{"domain":["D-Shapley","TMC-Shapley","Random"],"range":["#0000ff","#008000","#ff0000"]}},
       "strokeDash":{"field":"s","type":"nominal","scale":{"domain":["D-Shapley","TMC-Shapley","Random"],"range":[[1,0],[15,6.5],[4,6.6]]}}}}
    ]}
 ]}
]
}
